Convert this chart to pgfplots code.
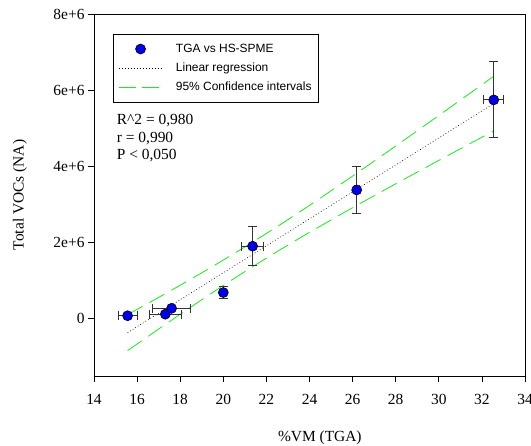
\documentclass[border=0pt]{standalone}
\usepackage{fontspec}
\setmainfont{Liberation Serif}
\newfontfamily\arial{Liberation Sans}
\usepackage{pgfplots}
\pgfplotsset{compat=1.18}
\definecolor{cigreen}{RGB}{20,240,20}
\definecolor{ptblue}{RGB}{0,0,235}
\pgfplotsset{
  mylinelegend/.style={legend image code/.code={\draw[##1] (0bp,0bp) -- (44bp,0bp);}},
  mymarklegend/.style={legend image code/.code={\draw[##1] plot coordinates {(22bp,0bp)};}},
}
\pgfplotstableread{
x y ex ey
15.56 60000 0.44 30000
17.31 100000 0.73 30000
17.60 255000 0.89 50000
20.00 670000 0.10 150000
21.36 1890000 0.50 510000
26.19 3370000 0.12 610000
32.55 5740000 0.46 1000000
}\points
\pgfplotstableread{
x y
15.56 -385000
32.55 5643000
}\regline
\pgfplotstableread{
x up lo
15.56 88000 -858000
17 542000 -290000
18 862000 98000
19 1189000 481000
20 1524000 856000
21 1869000 1221000
22 2224000 1576000
23 2588000 1920000
24 2963000 2255000
26 3734000 2904000
28 4525000 3531000
30 5328000 4148000
32.55 6362000 4924000
}\ciband
\begin{document}
\begin{tikzpicture}
\useasboundingbox (-94bp,-70bp) rectangle (437bp,376bp);
\begin{axis}[
  scale only axis, width=431bp, height=362bp,
  xmin=14, xmax=34, ymin=-1526000, ymax=8000000,
  xtick={14,16,18,20,22,24,26,28,30,32,34},
  xticklabels={14,16,18,20,22,24,26,28,30,32,34},
  ytick={0,2000000,4000000,6000000,8000000},
  yticklabels={0,2e+6,4e+6,6e+6,8e+6},
  scaled y ticks=false, scaled x ticks=false,
  tick align=outside, xtick pos=bottom, ytick pos=left,
  major tick length=6bp,
  tick style={black, line width=0.8pt},
  axis line style={black, line width=0.8pt},
  /pgf/number format/assume math mode=true,
  tick label style={font=\rmfamily\fontsize{15.5}{18}\selectfont},
  xticklabel style={yshift=-9bp},
  label style={font=\rmfamily\fontsize{15.5}{18}\selectfont},
  xlabel={\%VM (TGA)}, ylabel={Total VOCs (NA)},
  xlabel style={at={(axis description cs:0.524,-0.17)}, anchor=center},
  ylabel style={at={(axis description cs:-0.172,0.5)}, anchor=center},
  legend style={at={(rel axis cs:0.044,0.945)}, anchor=north west, draw=black,
    font=\arial\fontsize{12}{14}\selectfont, legend cell align=left,
    inner xsep=5bp, inner ysep=8bp, row sep=5bp,
    /tikz/every odd column/.append style={column sep=11bp}},
  clip=false,
]
\addlegendimage{mymarklegend, only marks, mark=*, mark size=5bp, mark options={fill=ptblue, draw=black, line width=0.6pt}}
\addlegendentry{TGA vs HS-SPME}
\addlegendimage{mylinelegend, black, line width=0.6pt, dash pattern=on 0.8bp off 2.2bp}
\addlegendentry{Linear regression}
\addlegendimage{mylinelegend, cigreen, line width=0.8pt, dash pattern=on 17bp off 6bp}
\addlegendentry{95\% Confidence intervals}

\addplot[forget plot, black, line width=0.6pt, dash pattern=on 0.8bp off 2.2bp] table[x=x, y=y] {\regline};
\addplot[forget plot, cigreen, line width=0.8pt, dash pattern=on 17bp off 8bp] table[x=x, y=up] {\ciband};
\addplot[forget plot, cigreen, line width=0.8pt, dash pattern=on 17bp off 8bp] table[x=x, y=lo] {\ciband};
\addplot[forget plot, draw=none, mark=none,
  error bars/.cd, x dir=both, x explicit, y dir=both, y explicit, error mark=|,
  error bar style={black!80, line width=0.9pt},
  error mark options={black!80, line width=0.9pt, mark size=4.5bp}]
  table[x=x, y=y, x error=ex, y error=ey] {\points};
\addplot[forget plot, only marks, mark=*, mark size=5bp, mark options={fill=ptblue, draw=black, line width=0.6pt}]
  table[x=x, y=y] {\points};

\node[anchor=base west, font=\rmfamily\fontsize{15.5}{18}\selectfont] at (rel axis cs:0.045,0.696) {R\textasciicircum 2 = 0,980};
\node[anchor=base west, font=\rmfamily\fontsize{15.5}{18}\selectfont] at (rel axis cs:0.045,0.646) {r = 0,990};
\node[anchor=base west, font=\rmfamily\fontsize{15.5}{18}\selectfont] at (rel axis cs:0.045,0.597) {P < 0,050};
\end{axis}
\end{tikzpicture}
\end{document}
